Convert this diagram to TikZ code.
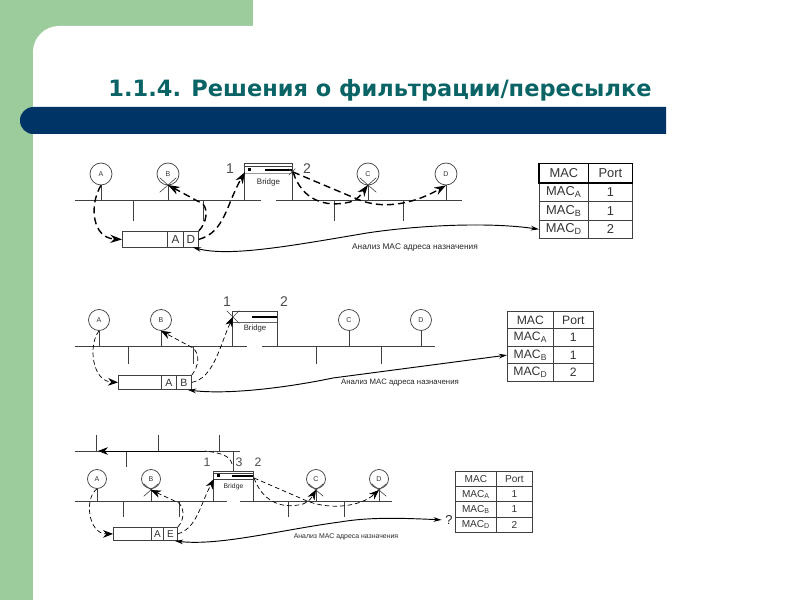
\documentclass[tikz,border=0pt]{standalone}
\usepackage{fontspec}
\setmainfont{Liberation Sans}
\newfontfamily\titlefont{DejaVu Sans}
\usetikzlibrary{arrows.meta, positioning, calc, shapes.misc}
\definecolor{SlideGreen}{HTML}{9CCC9C}
\definecolor{SlideNavy}{HTML}{003366}
\definecolor{SlideTeal}{HTML}{0A6466}
\definecolor{WireGray}{gray}{0.25}
\newcommand{\fsz}[1]{\fontsize{#1}{#1}\selectfont}
\newcommand{\mactab}[7]{%
  \foreach \row/\mlab/\plab in {0/MAC/Port,1/MAC\textsubscript{A}/1,2/MAC\textsubscript{B}/1,3/MAC\textsubscript{D}/2}{
    \node[tabcell, font=\fsz{#7}, minimum width=#4*0.03cm, minimum height=#6*0.03cm] (#1m\row) at (#2,{#3+\row*#6}) {\mlab};
    \node[tabcell, font=\fsz{#7}, minimum width=#5*0.03cm, minimum height=#6*0.03cm] (#1p\row) at ({#2+#4},{#3+\row*#6}) {\plab};
  }}

\begin{document}
\begin{tikzpicture}[
    x=0.03cm, y=-0.03cm,
    wire/.style={draw=WireGray, line width=0.7pt},
    tabcell/.style={draw=WireGray, line width=0.6pt, anchor=north west, inner sep=0pt, text=black!80},
    station/.style={circle, draw=WireGray, line width=0.6pt, fill=white, inner sep=0pt, text=black!80},
    crossmark/.style={cross out, draw=WireGray, line width=0.5pt, inner sep=0pt},
    framebox/.style={rectangle, draw=WireGray, line width=0.7pt, anchor=north west, inner sep=0pt, text=black!80},
    bridgebox/.style={rectangle, inner sep=0pt, text=black!85},
    numlab/.style={text=black!70, inner sep=0pt},
    flowa/.style={draw=black, line width=1.2pt, dash pattern=on 6pt off 3.5pt, -{Stealth[length=10pt, width=7pt]}},
    flowb/.style={draw=black, line width=0.6pt, dash pattern=on 4pt off 2.5pt, -{Stealth[length=8.5pt, width=6.5pt]}},
    lookup/.style={draw=black, line width=0.8pt, {Stealth[length=7pt, width=4pt]}-{Stealth[length=7pt, width=4pt]}}
]
\useasboundingbox (0,0) rectangle (800,600);

% slide background
\fill[SlideGreen] (0,0) rectangle (253,60);
\fill[SlideGreen] (0,0) rectangle (33,600);
\fill[white] (253,26) [rounded corners=0.78cm] -- (33,26) [sharp corners] -- (33,100) -- (253,100) -- cycle;
\fill[SlideNavy] (666,107) [rounded corners=0.4cm] -- (20,107) -- (20,134) [sharp corners] -- (666,134) -- cycle;
\node[font=\titlefont\bfseries\fsz{19.2}, text=SlideTeal, inner sep=0pt] (title) at (380,90.5) {1.1.4. Решения о фильтрации/пересылке};

% first segment pair
\coordinate (bus1a) at (75,200);
\coordinate (bus1b) at (261,200);
\coordinate (bus1c) at (276,200);
\coordinate (bus1d) at (462,200);
\draw[wire] (bus1a) -- (bus1b);
\draw[wire] (bus1c) -- (bus1d);
\foreach \nm/\lab/\pos in {a1/A/101, b1/B/168, c1/C/368, d1/D/446}{
    \node[station, minimum size=0.66cm, font=\fsz{6}] (\nm) at (\pos,174) {\lab};
    \draw[wire] (\nm) -- (\nm |- bus1a);
}
\foreach \pos in {133, 203, 334, 403}
    \draw[wire] (\pos,200) -- (\pos,221);
\node[crossmark, minimum width=0.48cm, minimum height=0.42cm] (xb1) at (168,185) {};
\node[crossmark, minimum width=0.48cm, minimum height=0.42cm] (xc1) at (368,185) {};
\node[bridgebox, minimum width=1.41cm, minimum height=1.08cm, font=\fsz{6.8}] (br1) at (268.5,182) {Bridge};
\draw[wire] (br1.south west) |- (br1.north east) -- (br1.south east);
\draw[wire] (245,166) -- (292,166);
\draw[draw=black!40, line width=0.4pt] (245,173) -- (292,173);
\fill[black] (247.5,168.5) rectangle (250.5,171.5);
\fill[black] (265,169) rectangle (292,171);
\node[crossmark, minimum size=0.18cm] (xp1) at (292,172) {};
\node[numlab, font=\fsz{12}] (n11) at (230,169) {1};
\node[numlab, font=\fsz{12}] (n12) at (307,169) {2};
\node[framebox, minimum width=1.35cm, minimum height=0.48cm] (fr1) at (122,231) {};
\node[framebox, minimum width=0.48cm, minimum height=0.48cm, font=\fsz{10}] (fa1) at (167,231) {A};
\node[framebox, minimum width=0.45cm, minimum height=0.48cm, font=\fsz{10}] (fd1) at (183,231) {D};
\mactab{t1}{539}{163.5}{49}{44}{18.7}{11}
\draw[line width=1.1pt] (t1m0.north west) rectangle (t1p0.south east);
\draw[line width=1.1pt] (t1m0.north east) -- (t1m0.south east);
\coordinate (in1) at (245,172);
\coordinate (out1) at (293,172);
\coordinate (tap1) at (203,204);
\coordinate (mid1) at (357,199);
\coordinate (mid1b) at (350,202);
\coordinate (back1) at (193,247.5);
\coordinate (bend1) at (367,233);
\draw[flowa] (a1.south) .. controls (89,205) and (92,238) .. (fr1.west |- fd1.west);
\draw[flowa] (fd1.north east) .. controls (207,222) and (208,210) .. (tap1) -- (xb1.center);
\draw[flowa] (fd1.east) .. controls (225,232) and (226,205) .. (in1);
\draw[flowa] (out1) -- (mid1) .. controls (380,209) and (410,206) .. (d1.south);
\draw[flowa] (out1) .. controls (302,200) and (325,208) .. (mid1b) .. controls (358,200) and (362,193) .. (xc1.center);
\draw[lookup] (back1) .. controls (230,257) and (290,246) .. (bend1) .. controls (420,225) and (490,222) .. (t1m3.west);
\node[font=\fsz{7.1}, text=black!85, inner sep=0pt] (note1) at (415,247) {Анализ MAC адреса назначения};

% second segment pair
\coordinate (bus2a) at (75,346);
\coordinate (bus2b) at (247,346);
\coordinate (bus2c) at (262,346);
\coordinate (bus2d) at (435,346);
\draw[wire] (bus2a) -- (bus2b);
\draw[wire] (bus2c) -- (bus2d);
\foreach \nm/\lab/\pos in {a2/A/99, b2/B/161, c2/C/349, d2/D/421}{
    \node[station, minimum size=0.63cm, font=\fsz{6}] (\nm) at (\pos,320) {\lab};
    \draw[wire] (\nm) -- (\nm |- bus2a);
}
\foreach \pos in {128, 193, 316, 381}
    \draw[wire] (\pos,346) -- (\pos,364);
\node[bridgebox, minimum width=1.32cm, minimum height=1.02cm, font=\fsz{6.6}] (br2) at (255,329) {Bridge};
\draw[wire] (br2.south west) |- (br2.north east) -- (br2.south east);
\draw[draw=black!60, line width=0.4pt] (233,322) -- (277,322);
\fill[black] (252,316) rectangle (277,318);
\node[crossmark, minimum size=0.36cm] (xp2) at (233,317) {};
\node[numlab, font=\fsz{12}] (n21) at (227,302) {1};
\node[numlab, font=\fsz{12}] (n22) at (284,302) {2};
\node[framebox, minimum width=1.29cm, minimum height=0.42cm] (fr2) at (118,375) {};
\node[framebox, minimum width=0.45cm, minimum height=0.42cm, font=\fsz{9}] (fa2) at (161,375) {A};
\node[framebox, minimum width=0.45cm, minimum height=0.42cm, font=\fsz{9}] (fb2) at (176,375) {B};
\mactab{t2}{507}{311}{46}{40}{17.5}{10.4}
\coordinate (tap2) at (193,348);
\coordinate (back2) at (188,390);
\coordinate (bend2) at (333,378);
\draw[flowb] (a2.south) .. controls (88,345) and (92,381) .. (fr2.west |- fa2.west);
\draw[flowb] (fb2.north east) .. controls (199,366) and (200,354) .. (tap2) -- (b2.south);
\draw[flowb] (fb2.east) .. controls (214,378) and (220,345) .. (xp2.center);
\draw[lookup] (back2) .. controls (230,395) and (290,387) .. (bend2) -- (t2m2.west);
\node[font=\fsz{6.65}, text=black!85, inner sep=0pt] (note2) at (400,383) {Анализ MAC адреса назначения};

% third segment pair
\coordinate (bus3a) at (75,501);
\coordinate (bus3b) at (227,501);
\coordinate (bus3c) at (240,501);
\coordinate (bus3d) at (392,501);
\coordinate (top3a) at (75,451);
\coordinate (top3b) at (240,451);
\draw[wire] (top3a) -- (top3b);
\draw[wire] (bus3a) -- (bus3b);
\draw[wire] (bus3c) -- (bus3d);
\foreach \pos in {96, 158, 219}
    \draw[wire] (\pos,435) -- (\pos,451);
\draw[wire] (126,451) -- (126,467);
\foreach \nm/\lab/\pos in {a3/A/97, b3/B/151, c3/C/316, d3/D/379}{
    \node[station, minimum size=0.57cm, font=\fsz{6}] (\nm) at (\pos,479) {\lab};
    \draw[wire] (\nm) -- (\nm |- bus3a);
}
\foreach \pos in {123, 179, 288, 344}
    \draw[wire] (\pos,501) -- (\pos,517);
\node[crossmark, minimum width=0.42cm, minimum height=0.36cm] (xb3) at (151,490) {};
\node[crossmark, minimum width=0.42cm, minimum height=0.36cm] (xc3) at (316,490) {};
\node[crossmark, minimum width=0.42cm, minimum height=0.36cm] (xd3) at (379,490) {};
\node[bridgebox, minimum width=1.17cm, minimum height=0.87cm, font=\fsz{5.8}] (br3) at (233.5,486.5) {Bridge};
\draw[wire] (br3.south west) |- (br3.north east) -- (br3.south east);
\draw[wire] (br3.north west) ++(0,2) -- ++(39,0);
\draw[wire] (br3.north west) ++(0,8) -- ++(39,0);
\fill[black] (216.5,474.5) rectangle (219.5,477.5);
\fill[black] (232,475) rectangle (253,477);
\draw[wire] (233,451) -- (233,472);
\node[numlab, font=\fsz{10.5}] (n31) at (207,462) {1};
\node[numlab, font=\fsz{10.5}] (n33) at (239,462) {3};
\node[numlab, font=\fsz{10.5}] (n32) at (258,462) {2};
\node[framebox, minimum width=1.14cm, minimum height=0.39cm] (fr3) at (113,527) {};
\node[framebox, minimum width=0.36cm, minimum height=0.39cm, font=\fsz{8.5}] (fa3) at (151,527) {A};
\node[framebox, minimum width=0.42cm, minimum height=0.39cm, font=\fsz{8.5}] (fe3) at (163,527) {E};
\mactab{t3}{455}{471}{41}{36}{15.25}{8.6}
\node[font=\fsz{11}, text=black!85, inner sep=0pt] (qm3) at (449,520) {?};
\coordinate (in3) at (214,479);
\coordinate (out3) at (254,478);
\coordinate (tap3) at (179,503);
\coordinate (up3) at (232,464);
\coordinate (hop3) at (205,451);
\coordinate (tip3) at (98,451);
\coordinate (mid3) at (307,501);
\coordinate (mid3b) at (303,504);
\coordinate (back3) at (175,541);
\coordinate (bend3) at (340,522);
\draw[flowb] (a3.south) .. controls (84,498) and (88,534) .. (fr3.west |- fa3.west);
\draw[flowb] (fe3.north east) .. controls (184,520) and (185,510) .. (tap3) -- (xb3.center);
\draw[flowb] (fe3.east) .. controls (197,528) and (200,505) .. (in3);
\draw[flowb] (out3) -- (mid3) .. controls (330,510) and (360,507) .. (xd3.center);
\draw[flowb] (out3) .. controls (262,500) and (280,510) .. (mid3b) .. controls (309,502) and (312,497) .. (xc3.center);
\draw[flowb, -] (up3) .. controls (230,456) and (222,453) .. (hop3);
\draw[flowb, solid] (hop3) -- (tip3);
\draw[lookup, shorten >=3pt] (back3) .. controls (220,546) and (280,530) .. (bend3) .. controls (370,517) and (400,518) .. (qm3.west);
\node[font=\fsz{5.9}, text=black!85, inner sep=0pt] (note3) at (346,537) {Анализ MAC адреса назначения};

\end{tikzpicture}
\end{document}
